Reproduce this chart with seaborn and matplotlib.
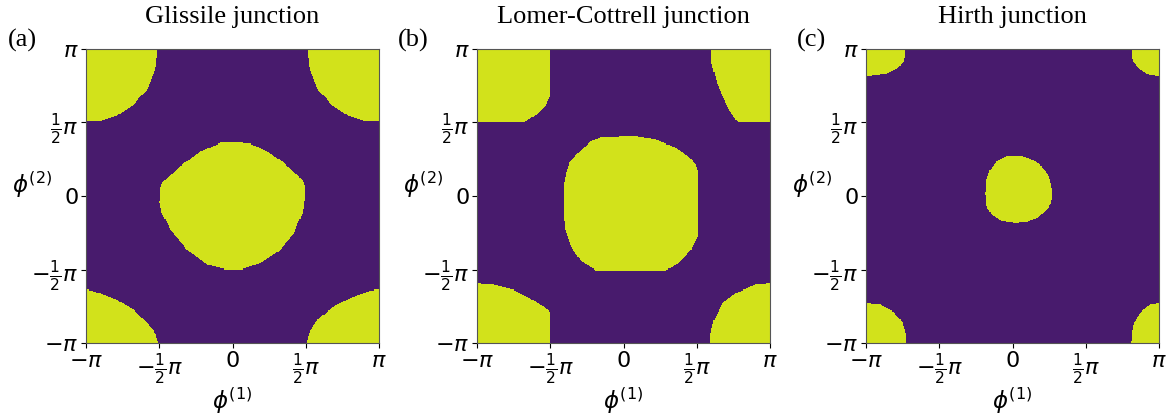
import numpy as np
import pandas as pd
import seaborn as sns
import matplotlib.pyplot as plt
from matplotlib.path import Path
from matplotlib.colors import ListedColormap

titles = ["Glissile junction", "Lomer-Cottrell junction", "Hirth junction"]
tags = ["(a)", "(b)", "(c)"]
tick_labels = [r"$-\pi$", r"$-\frac{1}{2}\pi$", r"$0$", r"$\frac{1}{2}\pi$", r"$\pi$"]

# region boundaries, (phi1, phi2) in units of pi
# central region, around (0, 0)
glissile_center = [(0.495, -0.002), (0.488, 0.088), (0.454, 0.134), (0.351, 0.224), (0.237, 0.304),
                   (0.123, 0.356), (0.009, 0.367), (-0.082, 0.361), (-0.219, 0.304), (-0.356, 0.202),
                   (-0.470, 0.100), (-0.493, 0.054), (-0.497, -0.048), (-0.481, -0.116), (-0.424, -0.229),
                   (-0.310, -0.365), (-0.173, -0.467), (-0.036, -0.501), (0.055, -0.501), (0.192, -0.456),
                   (0.328, -0.365), (0.420, -0.252), (0.477, -0.116)]
lomer_center = [(0.505, 0.0), (0.505, 0.179), (0.489, 0.213), (0.448, 0.265), (0.358, 0.329),
                (0.221, 0.383), (0.085, 0.406), (-0.142, 0.401), (-0.221, 0.372), (-0.301, 0.304),
                (-0.369, 0.224), (-0.392, 0.156), (-0.408, 0.066), (-0.410, -0.116), (-0.396, -0.229),
                (-0.358, -0.342), (-0.289, -0.444), (-0.187, -0.506), (0.289, -0.506), (0.380, -0.456),
                (0.460, -0.365), (0.505, -0.279)]
hirth_center = [(0.274, -0.002), (0.267, 0.066), (0.244, 0.145), (0.199, 0.202), (0.142, 0.243),
                (0.051, 0.274), (-0.040, 0.270), (-0.108, 0.236), (-0.154, 0.179), (-0.176, 0.111),
                (-0.183, 0.020), (-0.176, -0.070), (-0.142, -0.127), (-0.085, -0.166), (0.006, -0.184),
                (0.097, -0.179), (0.165, -0.150), (0.222, -0.104), (0.260, -0.059)]

# region around the corner (pi, pi), offsets from that corner (periodic)
glissile_corner = [(0.494, 0.0), (0.473, 0.068), (0.416, 0.136), (0.324, 0.227), (0.210, 0.295),
                   (0.096, 0.340), (0.0, 0.367), (-0.056, 0.358), (-0.170, 0.317), (-0.307, 0.249),
                   (-0.421, 0.159), (-0.478, 0.068), (-0.494, 0.0), (-0.489, -0.005), (-0.473, -0.141),
                   (-0.416, -0.277), (-0.325, -0.379), (-0.211, -0.454), (-0.097, -0.492), (0.0, -0.492),
                   (0.097, -0.492), (0.211, -0.454), (0.325, -0.379), (0.416, -0.277), (0.473, -0.141),
                   (0.489, -0.005)]
lomer_corner = [(0.500, 0.0), (0.500, 0.215), (0.450, 0.249), (0.359, 0.306), (0.245, 0.363),
                (0.109, 0.397), (0.0, 0.406), (-0.098, 0.397), (-0.234, 0.340), (-0.325, 0.272),
                (-0.381, 0.159), (-0.404, 0.068), (-0.404, 0.0), (-0.397, -0.095), (-0.370, -0.209),
                (-0.325, -0.322), (-0.279, -0.413), (-0.223, -0.499), (0.0, -0.499), (0.325, -0.499),
                (0.404, -0.447), (0.472, -0.379), (0.500, -0.322)]
hirth_corner = [(0.274, 0.0), (0.269, 0.068), (0.244, 0.147), (0.187, 0.215), (0.096, 0.261),
                (0.0, 0.272), (-0.061, 0.261), (-0.130, 0.204), (-0.171, 0.136), (-0.187, 0.068),
                (-0.190, 0.0), (-0.183, -0.073), (-0.142, -0.129), (-0.074, -0.175), (0.0, -0.186),
                (0.051, -0.181), (0.142, -0.168), (0.222, -0.129), (0.260, -0.073), (0.269, 0.0)]

centers = [glissile_center, lomer_center, hirth_center]
corners = [glissile_corner, lomer_corner, hirth_corner]

n = 280
phi = -1 + (np.arange(n) + 0.5) * 2 / n
X, Y = np.meshgrid(phi, phi[::-1])   # row 0 is phi2 = +pi
pts = np.column_stack([X.ravel(), Y.ravel()])

purple = "#481b6d"
yellow = "#d2e21b"
cmap = ListedColormap([purple, yellow])

fig = plt.figure(figsize=(11.7, 4.16), dpi=100)
lefts = [86, 477, 866]
tag_x = [8, 398, 797]

for k in range(3):
    inside = Path(np.array(centers[k])).contains_points(pts)
    corner = np.array(corners[k])
    for sx in (-1, 1):
        for sy in (-1, 1):
            inside |= Path(corner + [sx, sy]).contains_points(pts)
    grid = pd.DataFrame(inside.reshape(n, n).astype(float))

    ax = fig.add_axes([lefts[k] / 1170, 73 / 416, 293 / 1170, 294 / 416])
    sns.heatmap(grid, ax=ax, cmap=cmap, vmin=0, vmax=1, cbar=False,
                xticklabels=False, yticklabels=False, rasterized=True)
    ticks = np.linspace(0, n, 5)
    ax.set_xticks(ticks)
    ax.set_xticklabels(tick_labels, rotation=0)
    ax.set_yticks(ticks)
    ax.set_yticklabels(tick_labels[::-1], rotation=0)
    ax.tick_params(length=3.5, width=0.8, labelsize=16, pad=2)
    for sp in ax.spines.values():
        sp.set_visible(True)
        sp.set_linewidth(0.8)
        sp.set_color("#555555")
    ax.set_xlabel(r"$\phi^{(1)}$", fontsize=16.5, labelpad=0)
    ax.set_ylabel(r"$\phi^{(2)}$", fontsize=16.5, rotation=0, ha="center", va="center")
    ax.yaxis.set_label_coords(-0.185, 0.54)

    cx = (lefts[k] + 146.5) / 1170
    fig.text(cx, 1 - 23 / 416, titles[k], ha="center", va="baseline",
             family="Liberation Serif", fontsize=19)
    fig.text(tag_x[k] / 1170, 1 - 47 / 416, tags[k], ha="left", va="baseline",
             family="Liberation Serif", fontsize=19)

fig.savefig("out.png", dpi=100)
